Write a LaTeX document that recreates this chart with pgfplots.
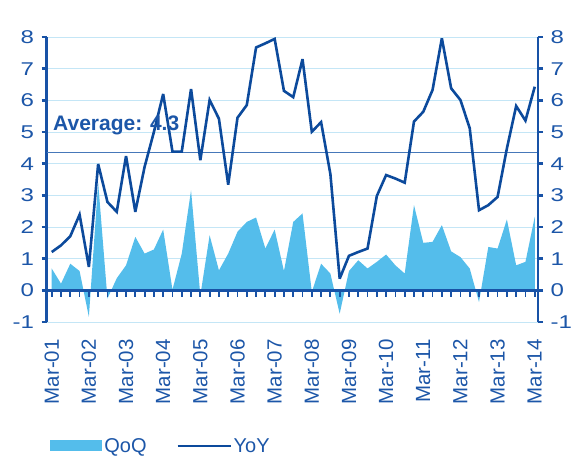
\documentclass[border=0pt]{standalone}
\usepackage{pgfplots}
\pgfplotsset{compat=1.18}
\usepackage{pgfplotstable}
\usepackage{fontspec}
\setmainfont{Liberation Sans}
\newfontfamily\widefont{Liberation Sans}[FakeStretch=1.3]
\definecolor{txtblue}{RGB}{28,86,168}
\definecolor{axblue}{RGB}{24,82,166}
\definecolor{lineblue}{RGB}{12,74,156}
\definecolor{areablue}{RGB}{84,189,235}
\definecolor{gridblue}{RGB}{196,230,246}
\definecolor{avgblue}{RGB}{70,120,185}

\pgfplotstableread{
i qoq yoy tk
0 0.69 1.21 -0.11
1 0.21 1.42 -0.11
2 0.84 1.71 -0.11
3 0.61 2.39 -0.11
4 -0.84 0.74 -0.11
5 3.40 3.99 -0.11
6 -0.26 2.79 -0.11
7 0.38 2.48 -0.11
8 0.79 4.24 -0.11
9 1.69 2.48 -0.11
10 1.16 3.90 -0.11
11 1.29 5.00 -0.11
12 1.92 6.20 -0.11
13 0.02 4.38 -0.11
14 1.16 4.38 -0.11
15 3.16 6.36 -0.11
16 -0.16 4.11 -0.11
17 1.74 6.01 -0.11
18 0.63 5.42 -0.11
19 1.16 3.34 -0.11
20 1.85 5.45 -0.11
21 2.16 5.85 -0.11
22 2.30 7.67 -0.11
23 1.32 7.80 -0.11
24 1.92 7.94 -0.11
25 0.61 6.30 -0.11
26 2.16 6.10 -0.11
27 2.43 7.30 -0.11
28 -0.05 5.01 -0.11
29 0.84 5.31 -0.11
30 0.53 3.67 -0.11
31 -0.74 0.37 -0.11
32 0.61 1.09 -0.11
33 0.95 1.21 -0.11
34 0.69 1.32 -0.11
35 0.90 2.98 -0.11
36 1.13 3.64 -0.11
37 0.79 3.53 -0.11
38 0.53 3.40 -0.11
39 2.69 5.33 -0.11
40 1.50 5.64 -0.11
41 1.53 6.33 -0.11
42 2.06 7.96 -0.11
43 1.23 6.38 -0.11
44 1.05 6.01 -0.11
45 0.69 5.12 -0.11
46 -0.37 2.53 -0.11
47 1.37 2.69 -0.11
48 1.32 2.95 -0.11
49 2.24 4.48 -0.11
50 0.79 5.82 -0.11
51 0.90 5.36 -0.11
52 2.32 6.43 -0.11
}\data

\begin{document}
\begin{tikzpicture}
\pgfplotsset{
  base/.style={scale only axis, width=491.3bp, height=285bp,
    xmin=-0.54, xmax=52.35, ymin=-1, ymax=8},
  yaxstyle/.style={ytick={-1,0,...,8}, yticklabels={-1,0,1,2,3,4,5,6,7,8},
    tick align=outside, major tick length=5bp,
    y axis line style={-, axblue, line width=2.6bp},
    ytick style={axblue, line width=2.4bp},
    yticklabel style={font=\widefont\fontsize{18.5bp}{19bp}\selectfont, text=txtblue, inner sep=0pt},
    yticklabel shift=7.5bp}
}
\begin{axis}[base, yaxstyle,
  axis x line*=bottom, axis y line*=left,
  ytick pos=left, xtick pos=bottom,
  x axis line style={draw=none},
  ymajorgrids, grid style={gridblue, line width=1bp},
  xtick={0,4,...,52},
  xticklabels={Mar-01,Mar-02,Mar-03,Mar-04,Mar-05,Mar-06,Mar-07,Mar-08,Mar-09,Mar-10,Mar-11,Mar-12,Mar-13,Mar-14},
  xtick style={draw=none},
  xticklabel style={rotate=90, anchor=east, inner sep=0pt, text=txtblue, font=\fontsize{20.5bp}{21bp}\selectfont},
  xticklabel shift=12bp,
  clip=false,
  legend style={at={(0.001,-0.435)}, anchor=west, draw=none, fill=none,
    font=\fontsize{20bp}{22bp}\selectfont, text=txtblue,
    /tikz/every even column/.append style={column sep=28bp},
    nodes={inner sep=2bp}},
  legend columns=2,
]
\addplot[draw=none, fill=areablue,
  legend image code/.code={\fill[areablue] (0bp,-5.5bp) rectangle (52bp,5.5bp);}]
  table[x=i, y=qoq] {\data} \closedcycle;
\addlegendentry{QoQ}
\addplot[avgblue, line width=1.3bp, forget plot] coordinates {(-0.54,4.35) (52.35,4.35)};
\addplot[only marks, mark=|, mark size=3.5bp, mark options={draw=axblue, line width=1.8bp}, forget plot]
  table[x=i, y=tk] {\data};
\addplot[axblue, line width=2.6bp, forget plot] coordinates {(-0.54,0) (52.35,0)};
\addplot[lineblue, line width=2.6bp, line join=miter, miter limit=4,
  legend image code/.code={\draw[lineblue, line width=2bp] (0bp,0bp) -- (53bp,0bp);}]
  table[x=i, y=yoy] {\data};
\addlegendentry{YoY}
\node[anchor=west, inner sep=0pt, text=txtblue, font=\bfseries\fontsize{21bp}{22bp}\selectfont]
  at (axis cs:0.14,5.2) {Average: 4.3};
\end{axis}
\begin{axis}[base, yaxstyle,
  axis y line*=right, axis x line=none, ytick pos=right, xtick=\empty]
\end{axis}
\pgfresetboundingbox
\path[use as bounding box] (-46.7bp,-136bp) rectangle (528.3bp,322bp);
\end{tikzpicture}
\end{document}
